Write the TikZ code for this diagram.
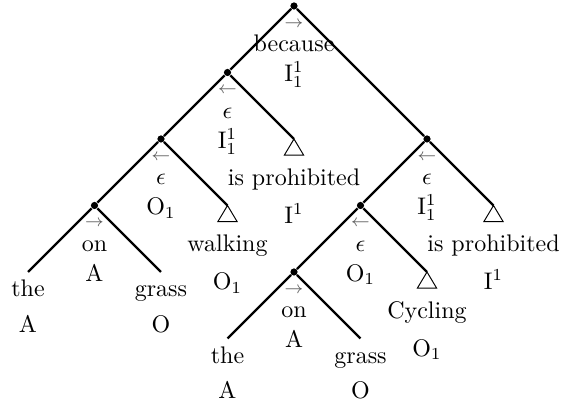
\documentclass[tikz,border=0pt]{standalone}
\usepackage{amsmath,amssymb}
\usepackage{xcolor}
\usepackage{tikz}
\usetikzlibrary{positioning}
\tikzset{
  dot/.style={circle,fill,inner sep=0pt,minimum size=3pt},
  branch/.style={line width=1pt},
  arr/.style={anchor=base,inner sep=0pt,font=\scriptsize,text=black!65},
  lbl/.style={anchor=base,inner sep=0pt},
}

\begin{document}
\begin{tikzpicture}[x=27.7pt, y=27.7pt]
  \useasboundingbox (-4.421,0.090) rectangle (4.015,-6.0);

  % Branching points
  \node[dot] (r) at (0,0) {};
  \node[dot] (a) at (-1,-1) {};
  \node[dot] (b) at (-2,-2) {};
  \node[dot] (c) at (-3,-3) {};
  \node[dot] (d) at (2,-2) {};
  \node[dot] (e) at (1,-3) {};
  \node[dot] (f) at (0,-4) {};

  % Leaves
  \coordinate (the1) at (-4,-4);
  \coordinate (grass1) at (-2,-4);
  \coordinate (walk) at (-1,-3);
  \coordinate (proh1) at (0,-2);
  \coordinate (proh2) at (3,-3);
  \coordinate (cyc) at (2,-4);
  \coordinate (the2) at (-1,-5);
  \coordinate (grass2) at (1,-5);

  % Branches
  \draw[branch] (r) -- (a);
  \draw[branch] (r) -- (d);
  \draw[branch] (a) -- (b);
  \draw[branch] (a) -- (proh1);
  \draw[branch] (b) -- (c);
  \draw[branch] (b) -- (walk);
  \draw[branch] (c) -- (the1);
  \draw[branch] (c) -- (grass1);
  \draw[branch] (d) -- (e);
  \draw[branch] (d) -- (proh2);
  \draw[branch] (e) -- (f);
  \draw[branch] (e) -- (cyc);
  \draw[branch] (f) -- (the2);
  \draw[branch] (f) -- (grass2);

  % Collapsed subtrees
  \draw (proh1) -- ++(-4pt,-6.7pt) -- ++(8pt,0) -- cycle;
  \draw (walk) -- ++(-4pt,-6.7pt) -- ++(8pt,0) -- cycle;
  \draw (proh2) -- ++(-4pt,-6.7pt) -- ++(8pt,0) -- cycle;
  \draw (cyc) -- ++(-4pt,-6.7pt) -- ++(8pt,0) -- cycle;

  % Labels of branching points
  \node[arr] (r-arr) at ([yshift=-8.8pt]r) {$\rightarrow$};
  \node[lbl] (r-word) at ([yshift=-19pt]r) {because};
  \node[lbl] (r-cat) at ([yshift=-31.5pt]r) {I$_1^1$};

  \node[arr] (a-arr) at ([yshift=-8.8pt]a) {$\leftarrow$};
  \node[lbl] (a-word) at ([yshift=-19pt]a) {$\epsilon$};
  \node[lbl] (a-cat) at ([yshift=-31.5pt]a) {I$_1^1$};

  \node[arr] (b-arr) at ([yshift=-8.8pt]b) {$\leftarrow$};
  \node[lbl] (b-word) at ([yshift=-19pt]b) {$\epsilon$};
  \node[lbl] (b-cat) at ([yshift=-31.5pt]b) {O$_1$};

  \node[arr] (c-arr) at ([yshift=-8.8pt]c) {$\rightarrow$};
  \node[lbl] (c-word) at ([yshift=-19pt]c) {on};
  \node[lbl] (c-cat) at ([yshift=-31.5pt]c) {A};

  \node[arr] (d-arr) at ([yshift=-8.8pt]d) {$\leftarrow$};
  \node[lbl] (d-word) at ([yshift=-19pt]d) {$\epsilon$};
  \node[lbl] (d-cat) at ([yshift=-31.5pt]d) {I$_1^1$};

  \node[arr] (e-arr) at ([yshift=-8.8pt]e) {$\leftarrow$};
  \node[lbl] (e-word) at ([yshift=-19pt]e) {$\epsilon$};
  \node[lbl] (e-cat) at ([yshift=-31.5pt]e) {O$_1$};

  \node[arr] (f-arr) at ([yshift=-8.8pt]f) {$\rightarrow$};
  \node[lbl] (f-word) at ([yshift=-19pt]f) {on};
  \node[lbl] (f-cat) at ([yshift=-31.5pt]f) {A};

  % Labels of collapsed subtrees
  \node[lbl] (proh1-word) at ([yshift=-19.2pt]proh1) {is prohibited};
  \node[lbl] (proh1-cat) at ([yshift=-35pt]proh1) {I$^1$};
  \node[lbl] (walk-word) at ([yshift=-19.2pt]walk) {walking};
  \node[lbl] (walk-cat) at ([yshift=-35pt]walk) {O$_1$};
  \node[lbl] (proh2-word) at ([yshift=-19.2pt]proh2) {is prohibited};
  \node[lbl] (proh2-cat) at ([yshift=-35pt]proh2) {I$^1$};
  \node[lbl] (cyc-word) at ([yshift=-19.2pt]cyc) {Cycling};
  \node[lbl] (cyc-cat) at ([yshift=-35pt]cyc) {O$_1$};

  % Labels of leaves
  \node[lbl] (the1-word) at ([yshift=-10.4pt]the1) {the};
  \node[lbl] (the1-cat) at ([yshift=-25pt]the1) {A};
  \node[lbl] (grass1-word) at ([yshift=-10.4pt]grass1) {grass};
  \node[lbl] (grass1-cat) at ([yshift=-25pt]grass1) {O};
  \node[lbl] (the2-word) at ([yshift=-10.4pt]the2) {the};
  \node[lbl] (the2-cat) at ([yshift=-25pt]the2) {A};
  \node[lbl] (grass2-word) at ([yshift=-10.4pt]grass2) {grass};
  \node[lbl] (grass2-cat) at ([yshift=-25pt]grass2) {O};
\end{tikzpicture}
\end{document}
